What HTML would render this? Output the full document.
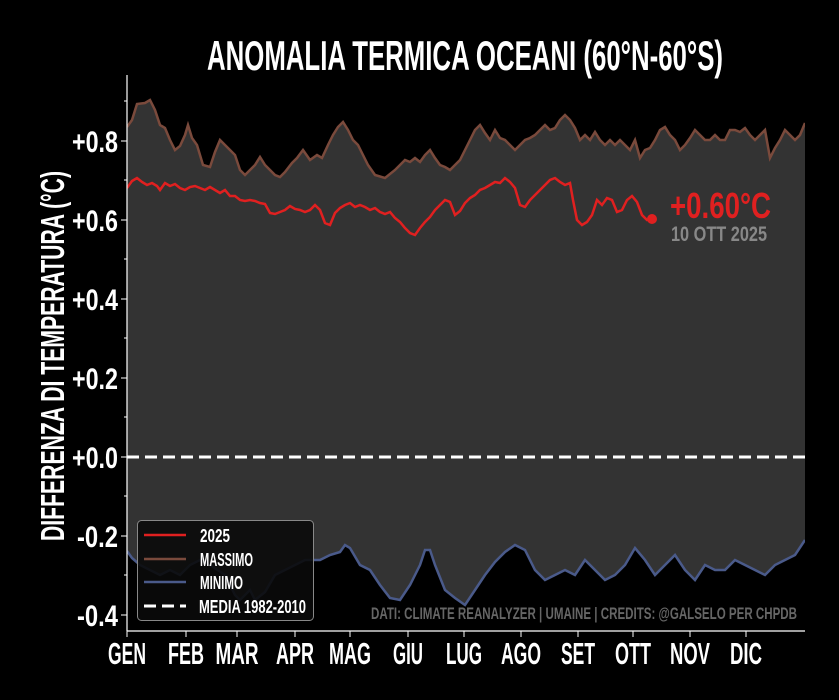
<!DOCTYPE html>
<html><head><meta charset="utf-8"><style>
html,body{margin:0;padding:0;background:#000;}
svg{display:block;font-family:"Liberation Sans Narrow","Liberation Sans",sans-serif;font-weight:bold;}
</style></head><body>
<svg width="839" height="700" viewBox="0 0 839 700" xmlns="http://www.w3.org/2000/svg">
<rect width="839" height="700" fill="#000"/>
<defs><clipPath id="c"><rect x="127" y="70" width="678" height="560"/></clipPath></defs>
<g clip-path="url(#c)">
<polygon fill="#333" points="127,127 132,120 137,104 145,103 150,100 155,110 160,125 165,128 170,140 175,150 180,146 185,135 188,125 192,138 197,145 203,165 210,167 215,152 220,140 225,145 230,150 235,155 240,170 245,175 250,170 255,165 260,157 265,165 270,170 275,175 280,177 285,172 292,163 297,158 303,150 310,160 317,155 322,158 328,145 333,135 338,127 343,122 348,130 353,140 358,145 363,155 368,165 375,175 385,178 395,170 400,165 405,160 410,162 415,158 420,162 425,155 430,150 435,158 440,165 445,167 450,170 455,165 460,160 465,150 470,140 475,130 480,125 485,133 490,140 495,130 500,138 505,140 510,145 515,150 520,145 525,140 530,138 535,135 540,130 545,125 550,130 555,128 560,120 565,115 570,120 575,128 580,140 585,135 590,140 595,132 600,140 605,145 610,140 615,145 620,140 625,145 630,150 635,140 640,158 645,150 650,148 655,140 660,130 665,127 670,135 675,140 680,150 685,145 690,138 695,130 700,135 705,140 710,140 715,135 720,140 725,140 730,130 735,130 740,132 745,128 750,135 755,140 760,135 765,130 770,158 775,148 780,140 785,130 790,135 795,140 800,135 805,123 805,540 795,555 785,560 775,565 765,575 755,570 745,565 735,560 725,570 715,570 705,565 695,580 685,570 675,555 665,565 655,575 645,560 635,548 625,565 615,575 605,580 595,570 585,560 575,575 565,570 555,575 545,580 535,570 525,550 515,545 505,552 495,562 485,575 475,590 465,605 455,598 445,590 435,565 430,550 425,550 420,565 410,585 400,600 390,598 380,585 370,570 360,565 350,548 345,545 340,552 330,555 320,560 305,560 295,565 285,570 275,575 265,592 255,600 250,590 240,600 235,595 225,575 210,565 200,560 190,565 180,575 170,570 160,575 150,570 140,565 132,558 127,551"/>
<polyline fill="none" stroke="#7a4a3c" stroke-width="2.5" points="127,127 132,120 137,104 145,103 150,100 155,110 160,125 165,128 170,140 175,150 180,146 185,135 188,125 192,138 197,145 203,165 210,167 215,152 220,140 225,145 230,150 235,155 240,170 245,175 250,170 255,165 260,157 265,165 270,170 275,175 280,177 285,172 292,163 297,158 303,150 310,160 317,155 322,158 328,145 333,135 338,127 343,122 348,130 353,140 358,145 363,155 368,165 375,175 385,178 395,170 400,165 405,160 410,162 415,158 420,162 425,155 430,150 435,158 440,165 445,167 450,170 455,165 460,160 465,150 470,140 475,130 480,125 485,133 490,140 495,130 500,138 505,140 510,145 515,150 520,145 525,140 530,138 535,135 540,130 545,125 550,130 555,128 560,120 565,115 570,120 575,128 580,140 585,135 590,140 595,132 600,140 605,145 610,140 615,145 620,140 625,145 630,150 635,140 640,158 645,150 650,148 655,140 660,130 665,127 670,135 675,140 680,150 685,145 690,138 695,130 700,135 705,140 710,140 715,135 720,140 725,140 730,130 735,130 740,132 745,128 750,135 755,140 760,135 765,130 770,158 775,148 780,140 785,130 790,135 795,140 800,135 805,123"/>
<polyline fill="none" stroke="#4a5a8a" stroke-width="2.5" points="127,551 132,558 140,565 150,570 160,575 170,570 180,575 190,565 200,560 210,565 225,575 235,595 240,600 250,590 255,600 265,592 275,575 285,570 295,565 305,560 320,560 330,555 340,552 345,545 350,548 360,565 370,570 380,585 390,598 400,600 410,585 420,565 425,550 430,550 435,565 445,590 455,598 465,605 475,590 485,575 495,562 505,552 515,545 525,550 535,570 545,580 555,575 565,570 575,575 585,560 595,570 605,580 615,575 625,565 635,548 645,560 655,575 665,565 675,555 685,570 695,580 705,565 715,570 725,570 735,560 745,565 755,570 765,575 775,565 785,560 795,555 805,540"/>
<line x1="127" y1="457" x2="805" y2="457" stroke="#fff" stroke-width="3" stroke-dasharray="12,6"/>
<polyline fill="none" stroke="#e02020" stroke-width="2.5" points="127,188 132,181 137,178 142,182 147,185 152,183 157,186 160,190 165,183 170,186 175,184 180,188 185,190 190,187 195,186 200,188 205,190 210,187 215,190 220,193 225,190 230,196 235,196 240,200 245,201 250,200 255,201 260,203 265,204 270,213 275,214 280,212 285,210 290,206 295,209 300,210 305,212 310,210 315,205 320,210 325,223 330,225 335,213 340,208 345,205 350,203 355,207 360,205 365,207 370,210 375,208 380,212 385,214 390,212 395,218 400,222 405,228 410,233 415,235 420,228 425,222 430,217 435,210 440,205 445,200 450,202 455,215 460,211 465,203 470,198 475,195 480,190 485,188 490,185 495,182 500,183 505,178 510,182 515,188 520,205 525,207 530,200 535,195 540,190 545,185 550,180 555,178 560,182 565,185 570,183 573,200 577,220 582,225 587,222 592,215 597,200 602,205 607,198 612,200 617,212 622,210 627,200 632,196 637,202 642,215 647,220 652,219"/>
<circle cx="652" cy="219" r="5" fill="#e02020"/>
</g>
<line x1="127" y1="75" x2="127" y2="631" stroke="#fff" stroke-width="1.2"/>
<line x1="127" y1="631" x2="805" y2="631" stroke="#fff" stroke-width="1.2"/>
<g stroke="#fff" stroke-width="1">
<line x1="121" y1="141" x2="127" y2="141"/><line x1="121" y1="220" x2="127" y2="220"/><line x1="121" y1="299" x2="127" y2="299"/><line x1="121" y1="378" x2="127" y2="378"/><line x1="121" y1="457" x2="127" y2="457"/><line x1="121" y1="536" x2="127" y2="536"/><line x1="121" y1="615" x2="127" y2="615"/>
<line x1="124" y1="101" x2="127" y2="101"/><line x1="124" y1="180" x2="127" y2="180"/><line x1="124" y1="259" x2="127" y2="259"/><line x1="124" y1="338" x2="127" y2="338"/><line x1="124" y1="417" x2="127" y2="417"/><line x1="124" y1="496" x2="127" y2="496"/><line x1="124" y1="575" x2="127" y2="575"/>
<line x1="127" y1="631" x2="127" y2="637"/><line x1="186" y1="631" x2="186" y2="637"/><line x1="237" y1="631" x2="237" y2="637"/><line x1="295" y1="631" x2="295" y2="637"/><line x1="350" y1="631" x2="350" y2="637"/><line x1="408" y1="631" x2="408" y2="637"/><line x1="464" y1="631" x2="464" y2="637"/><line x1="521" y1="631" x2="521" y2="637"/><line x1="578" y1="631" x2="578" y2="637"/><line x1="633" y1="631" x2="633" y2="637"/><line x1="690" y1="631" x2="690" y2="637"/><line x1="746" y1="631" x2="746" y2="637"/>
</g>
<g fill="#fff" font-size="30" text-anchor="end">
<text x="118" y="152" textLength="46" lengthAdjust="spacingAndGlyphs">+0.8</text>
<text x="118" y="231" textLength="46" lengthAdjust="spacingAndGlyphs">+0.6</text>
<text x="118" y="310" textLength="46" lengthAdjust="spacingAndGlyphs">+0.4</text>
<text x="118" y="389" textLength="46" lengthAdjust="spacingAndGlyphs">+0.2</text>
<text x="118" y="468" textLength="46" lengthAdjust="spacingAndGlyphs">+0.0</text>
<text x="118" y="547" textLength="41" lengthAdjust="spacingAndGlyphs">-0.2</text>
<text x="118" y="626" textLength="41" lengthAdjust="spacingAndGlyphs">-0.4</text>
</g>
<g fill="#fff" font-size="31" text-anchor="middle">
<text x="127" y="664" textLength="38" lengthAdjust="spacingAndGlyphs">GEN</text>
<text x="186" y="664" textLength="36" lengthAdjust="spacingAndGlyphs">FEB</text>
<text x="237" y="664" textLength="43" lengthAdjust="spacingAndGlyphs">MAR</text>
<text x="295" y="664" textLength="38" lengthAdjust="spacingAndGlyphs">APR</text>
<text x="350" y="664" textLength="42" lengthAdjust="spacingAndGlyphs">MAG</text>
<text x="408" y="664" textLength="30" lengthAdjust="spacingAndGlyphs">GIU</text>
<text x="464" y="664" textLength="36" lengthAdjust="spacingAndGlyphs">LUG</text>
<text x="521" y="664" textLength="40" lengthAdjust="spacingAndGlyphs">AGO</text>
<text x="578" y="664" textLength="34" lengthAdjust="spacingAndGlyphs">SET</text>
<text x="633" y="664" textLength="36" lengthAdjust="spacingAndGlyphs">OTT</text>
<text x="690" y="664" textLength="40" lengthAdjust="spacingAndGlyphs">NOV</text>
<text x="746" y="664" textLength="32" lengthAdjust="spacingAndGlyphs">DIC</text>
</g>
<text x="465" y="70" fill="#fff" font-size="42" text-anchor="middle" textLength="516" lengthAdjust="spacingAndGlyphs">ANOMALIA TERMICA OCEANI (60°N-60°S)</text>
<text transform="translate(64,356) rotate(-90)" fill="#fff" font-size="33" text-anchor="middle" textLength="370" lengthAdjust="spacingAndGlyphs">DIFFERENZA DI TEMPERATURA (°C)</text>
<text x="670" y="218" fill="#e02020" font-size="36" textLength="101" lengthAdjust="spacingAndGlyphs">+0.60°C</text>
<text x="671" y="241" fill="#888" font-size="21" textLength="96" lengthAdjust="spacingAndGlyphs">10 OTT 2025</text>
<text x="797" y="619" fill="#666" font-size="17" text-anchor="end" textLength="426" lengthAdjust="spacingAndGlyphs">DATI: CLIMATE REANALYZER | UMAINE | CREDITS: @GALSELO PER CHPDB</text>
<rect x="137.5" y="520.5" width="176" height="100" rx="4" fill="#0a0a0a" fill-opacity="0.9" stroke="#888" stroke-width="1"/>
<line x1="144" y1="535" x2="186" y2="535" stroke="#e02020" stroke-width="2.5"/>
<line x1="144" y1="559" x2="186" y2="559" stroke="#7a4a3c" stroke-width="2.5"/>
<line x1="144" y1="582" x2="186" y2="582" stroke="#4a5a8a" stroke-width="2.5"/>
<line x1="144" y1="606" x2="186" y2="606" stroke="#fff" stroke-width="3" stroke-dasharray="12,6"/>
<g fill="#fff" font-size="18">
<text x="200" y="542" textLength="30" lengthAdjust="spacingAndGlyphs">2025</text>
<text x="200" y="566" textLength="53" lengthAdjust="spacingAndGlyphs">MASSIMO</text>
<text x="200" y="589" textLength="43" lengthAdjust="spacingAndGlyphs">MINIMO</text>
<text x="199" y="613" textLength="107" lengthAdjust="spacingAndGlyphs">MEDIA 1982-2010</text>
</g>
</svg>
</body></html>
